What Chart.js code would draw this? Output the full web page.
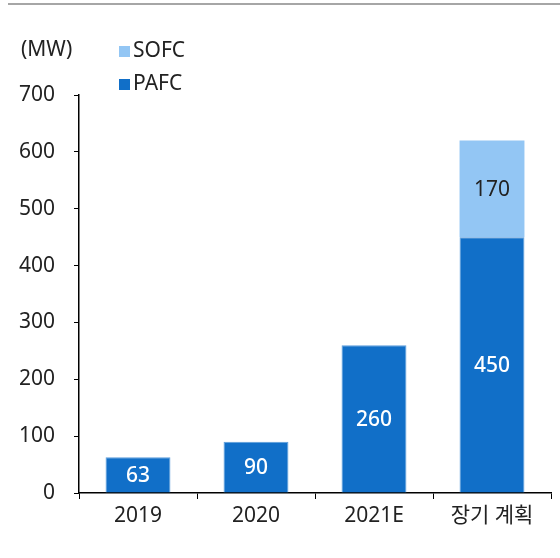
<!DOCTYPE html>
<html>
<head>
<meta charset="utf-8">
<script src="https://cdn.jsdelivr.net/npm/chart.js@4"></script>
<style>
  html, body { margin: 0; padding: 0; background: #fff; }
  #wrap { width: 560px; height: 558px; position: relative; }
</style>
</head>
<body>
<div id="wrap"><canvas id="fuelCell" width="560" height="558"></canvas></div>
<script>
'use strict';

// data
const categories = ['2019', '2020', '2021E', '장기 계획'];
const pafc = [63, 90, 260, 450];
const sofc = [null, null, null, 170];
const yTicks = [0, 100, 200, 300, 400, 500, 600, 700];

const FONT = "'Noto Sans', 'Noto Sans CJK KR', sans-serif";
const TEXT = '#222222';

// extra drawing: top rule, unit, legend, value labels
const decor = {
    id: 'decor',
    afterDatasetsDraw(chart) {
        const ctx = chart.ctx;
        ctx.save();
        // top rule
        ctx.fillStyle = '#a6a6a6';
        ctx.fillRect(8, 3, 552, 2);

        ctx.font = '21px ' + FONT;
        ctx.fillStyle = TEXT;
        ctx.textBaseline = 'middle';
        ctx.textAlign = 'left';
        ctx.fillText('(MW)', 21, 50);

        // legend, SOFC on top
        const items = [chart.data.datasets[1], chart.data.datasets[0]];
        items.forEach((ds, i) => {
            const y = 51 + i * 33;
            ctx.fillStyle = ds.backgroundColor;
            ctx.fillRect(119, y - 5, 11, 11);
            ctx.fillStyle = TEXT;
            ctx.fillText(ds.label, 133, y);
        });

        // value labels
        ctx.textAlign = 'center';
        chart.data.datasets.forEach((ds, di) => {
            const meta = chart.getDatasetMeta(di);
            ctx.font = ds.labelWeight + ' 21px ' + FONT;
            meta.data.forEach((bar, i) => {
                const v = ds.data[i];
                if (v == null) return;
                const mid = (bar.y + bar.base) / 2;
                ctx.fillStyle = ds.labelColor;
                ctx.fillText(String(v), bar.x, mid + 1);
            });
        });
        ctx.restore();
    }
};

new Chart(document.getElementById('fuelCell'), {
    type: 'bar',
    data: {
        labels: categories,
        datasets: [
            {
                label: 'PAFC',
                data: pafc,
                backgroundColor: '#116fc8',
                borderColor: '#5b9ddc',
                borderWidth: 1,
                labelColor: '#ffffff',
                labelWeight: '500'
            },
            {
                label: 'SOFC',
                data: sofc,
                backgroundColor: '#93c6f4',
                borderColor: '#93c6f4',
                borderWidth: 0,
                labelColor: TEXT,
                labelWeight: '400'
            }
        ]
    },
    options: {
        responsive: false,
        animation: false,
        devicePixelRatio: 1,
        layout: { padding: { top: 95, right: 9, left: 0, bottom: 0 } },
        plugins: {
            legend: { display: false },
            tooltip: { enabled: false }
        },
        datasets: {
            bar: { barPercentage: 0.55, categoryPercentage: 1 }
        },
        scales: {
            x: {
                stacked: true,
                grid: {
                    offset: true,
                    drawOnChartArea: false,
                    drawTicks: true,
                    tickLength: 6,
                    color: '#000'
                },
                border: { display: true, color: '#000', width: 1.5 },
                ticks: {
                    color: TEXT,
                    font: { family: FONT, size: 21 },
                    padding: 4
                },
                afterFit(scale) { scale.height = 65; }
            },
            y: {
                stacked: true,
                min: 0,
                max: 700,
                afterBuildTicks(scale) {
                    scale.ticks = yTicks.map(v => ({ value: v }));
                },
                grid: {
                    drawOnChartArea: false,
                    drawTicks: true,
                    tickLength: 5,
                    color: '#000'
                },
                border: { display: true, color: '#000', width: 1.5 },
                ticks: {
                    color: TEXT,
                    font: { family: FONT, size: 21 },
                    padding: 19
                },
                afterFit(scale) { scale.width = 79; }
            }
        }
    },
    plugins: [decor]
});
</script>
</body>
</html>
